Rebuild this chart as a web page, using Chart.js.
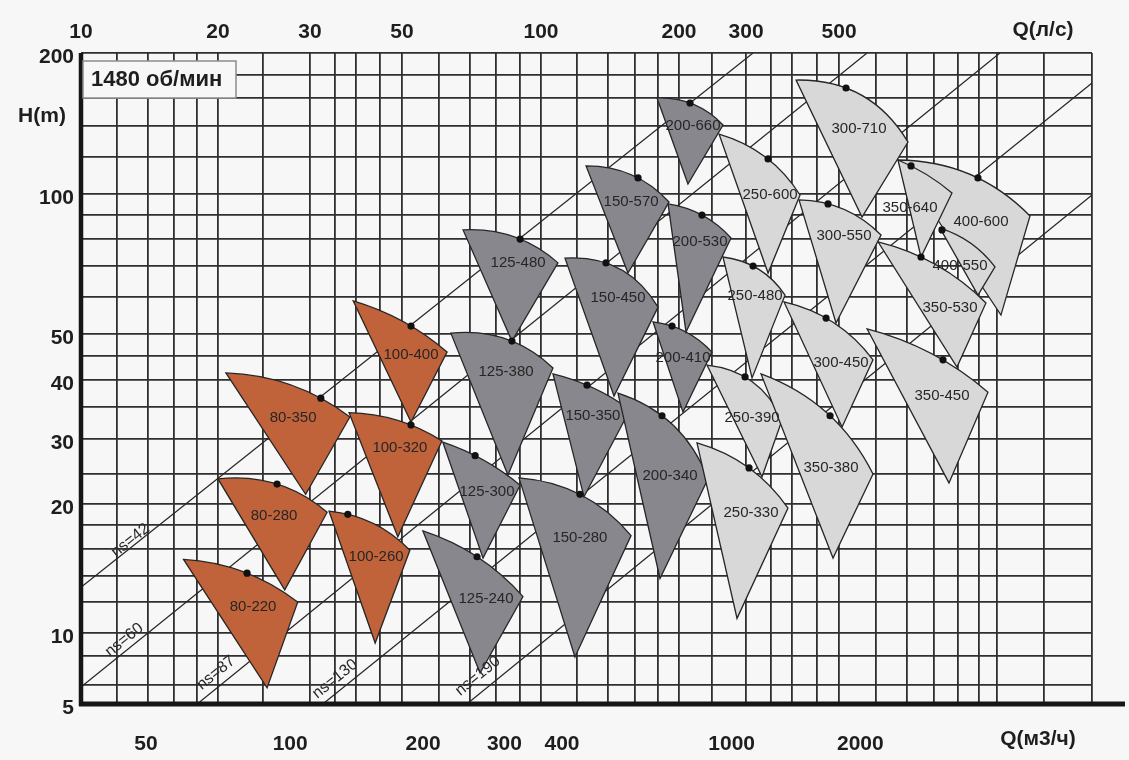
<!DOCTYPE html>
<html>
<head>
<meta charset="utf-8">
<script src="https://cdn.jsdelivr.net/npm/chart.js@4.4.1/dist/chart.umd.min.js"></script>
<style>
  html, body { margin: 0; padding: 0; background: #f7f7f7; }
  canvas { display: block; }
</style>
</head>
<body>
<canvas id="chart" width="1129" height="760"></canvas>
<script>
// ---------------- Pump operating fields at 1480 rpm (Q in l/s, H in m) ----------------
const pumpNames = [
  '80-220', '80-280', '80-350', '100-260', '100-320', '100-400',
  '125-240', '125-300', '125-480', '125-380', '150-280', '150-450', '150-350', '150-570',
  '200-340', '200-410', '200-530', '200-660',
  '250-330', '250-390', '250-480', '250-600', '300-450', '300-710', '300-550',
  '350-380', '350-450', '400-600', '350-640', '400-550', '350-530'
];
// 0 = small frame, 1 = medium frame, 2 = large frame
const pumpFamily = [
  0, 0, 0, 0, 0, 0,
  1, 1, 1, 1, 1, 1, 1, 1, 1, 1, 1, 1,
  2, 2, 2, 2, 2, 2, 2, 2, 2, 2, 2, 2, 2
];
// upper-left end of the full-impeller curve [Q, H]
const fieldTopLeft = [
  [16.8, 15.2], [20.0, 24.1], [20.8, 41.4], [33.8, 19.3], [38.3, 34.1], [39.3, 58.9],
  [55.5, 17.5], [61.3, 29.5], [67.8, 83.7], [63.8, 50.2], [89.6, 24.3], [112.8, 72.8],
  [106.2, 41.2], [125.4, 114.8], [147.2, 37.5], [175.5, 53.1], [189.3, 95.2], [179.1, 160.3],
  [225.9, 29.4], [241.7, 43.0], [265.2, 73.2], [259.6, 134.3], [380.5, 58.6], [407.7, 175.1],
  [413.5, 97.1], [329.5, 41.2], [574.4, 51.3], [669.6, 118.2], [669.6, 118.2], [824.4, 84.5],
  [606.5, 78.9]
];
// upper-right end of the full-impeller curve [Q, H]
const fieldTopRight = [
  [28.6, 12.0], [33.4, 19.2], [38.5, 33.4], [52.0, 15.9], [61.0, 29.7], [62.6, 45.8],
  [91.4, 12.4], [90.1, 23.0], [108.9, 71.1], [106.2, 42.4], [157.2, 17.1], [180.0, 57.1],
  [156.4, 34.6], [190.2, 96.1], [243.3, 24.1], [250.0, 45.8], [276.8, 80.4], [265.2, 140.4],
  [390.0, 19.6], [375.8, 32.9], [382.9, 60.6], [415.5, 99.5], [591.6, 44.1], [703.6, 129.1],
  [615.6, 81.6], [591.6, 25.0], [1048, 37.7], [1304, 89.7], [874.9, 100.5], [1087, 69.7],
  [1037, 58.3]
];
// lower point of the field (minimum impeller) [Q, H]
const fieldBottom = [
  [25.4, 5.85], [27.2, 12.9], [29.5, 21.5], [43.9, 9.07], [49.0, 17.0], [52.3, 32.6],
  [73.8, 6.77], [74.9, 15.3], [86.5, 48.3], [84.8, 24.8], [118.6, 7.91], [144.3, 37.0],
  [124.1, 21.1], [154.8, 67.6], [181.8, 13.8], [205.5, 34.2], [209.7, 50.5], [212.5, 105.0],
  [285.9, 10.9], [331.6, 24.5], [311.5, 40.4], [344.3, 67.6], [507.5, 31.8], [560.3, 89.2],
  [492.9, 52.8], [485.9, 15.3], [862.0, 23.4], [1121, 54.9], [750.4, 73.2], [995.0, 60.6],
  [896.8, 42.6]
];
// best efficiency point [Q, H]
const bestPoint = [
  [23.1, 14.2], [26.4, 23.2], [32.1, 36.6], [38.0, 19.0], [52.3, 32.1], [52.3, 52.0],
  [72.7, 15.4], [72.0, 27.5], [90.1, 80.0], [86.5, 48.3], [121.6, 21.5], [138.6, 71.1],
  [126.0, 39.0], [162.8, 108.2], [183.6, 33.6], [193.1, 52.0], [233.6, 90.1], [215.5, 156.4],
  [305.7, 25.8], [298.4, 40.6], [313.4, 70.0], [344.3, 118.8], [470.1, 54.1], [517.6, 168.4],
  [474.5, 95.2], [479.1, 33.6], [836.7, 44.1], [995.0, 108.2], [714.2, 114.8], [832.6, 83.7],
  [750.4, 73.2]
];
// where each pump name sits [Q, H]
const nameAt = [
  [23.8, 11.7], [26.1, 18.9], [28.1, 33.2], [44.1, 15.4], [49.5, 28.6], [52.3, 45.2],
  [76.0, 12.2], [76.4, 21.9], [89.2, 71.1], [84.0, 41.6], [121.6, 16.9], [147.2, 59.8],
  [129.8, 33.6], [157.2, 96.1], [191.2, 24.6], [205.5, 44.5], [230.5, 78.9], [219.9, 139.7],
  [309.5, 19.1], [311.5, 33.2], [317.4, 60.3], [348.6, 99.5], [505.0, 43.4], [552.0, 137.6],
  [512.5, 81.2], [481.3, 25.8], [832.6, 37.0], [1010.5, 87.1], [710.6, 93.3], [910.3, 70.0],
  [866.3, 56.9]
];

// ---------------- Specific-speed lines ----------------
const nsNames = ['ns=42', 'ns=60', 'ns=87', 'ns=130', 'ns=190'];
const nsFrom = [[10, 13.1], [10, 5.9], [18.0, 5], [32.5, 5], [69.1, 5]];
const nsTo = [[313.4, 200], [574.4, 200], [1115, 200], [1800, 172.6], [1800, 99.5]];
const nsNameAt = [[12.84, 16.7], [12.45, 9.34], [19.8, 6.77], [35.1, 6.38], [73.0, 6.57]];

// ---------------- Axis ticks ----------------
const flowGridLps = [10, 12, 14, 16, 18, 20, 25, 30, 35, 40, 45, 50, 60, 70, 80, 90, 100,
  120, 140, 160, 180, 200, 250, 300, 350, 400, 450, 500, 600, 700, 800, 900, 1000, 1100, 1400, 1800];
const flowLabelsLps = [10, 20, 30, 50, 100, 200, 300, 500];
const flowLabelsM3h = [50, 100, 200, 300, 400, 1000, 2000];
const headGrid = [5, 6, 8, 10, 12, 14, 16, 18, 20, 25, 30, 35, 40, 45, 50, 60, 70, 80, 90,
  100, 120, 140, 160, 180, 200];
const headLabels = [5, 10, 20, 30, 40, 50, 100, 200];

// ---------------- Styles ----------------
const familyFill = ['#c1633a', '#88878e', '#d8d8d8'];
const FONT = "'Liberation Sans', Arial, sans-serif";
const ARC_BULGE = 0.08;
const GRID_COLOR = '#2f2f2f';

// ---------------- Logarithmic axis with the sheet's own decade spacing ----------------
// [value, relative position along the axis]
const FLOW_KNOTS = [[10, 0], [20, 0.1355], [25, 0.1800], [30, 0.2265], [40, 0.2720], [50, 0.3175],
  [100, 0.4550], [200, 0.5915], [250, 0.6241], [300, 0.6578], [400, 0.7033], [500, 0.7498],
  [1000, 0.8882], [1800, 1]];
const HEAD_KNOTS = [[5, 0], [10, 0.1091], [14, 0.1966], [20, 0.3072], [25, 0.3533], [30, 0.4071],
  [40, 0.4977], [50, 0.5684], [100, 0.7834], [200, 1]];

function knotDecimal(knots, v) {
  const lv = Math.log10(v);
  let i = 0;
  while (i < knots.length - 2 && lv > Math.log10(knots[i + 1][0])) i++;
  const a = knots[i], b = knots[i + 1];
  const la = Math.log10(a[0]), lb = Math.log10(b[0]);
  return a[1] + (lv - la) / (lb - la) * (b[1] - a[1]);
}
function knotValue(knots, d) {
  let i = 0;
  while (i < knots.length - 2 && d > knots[i + 1][1]) i++;
  const a = knots[i], b = knots[i + 1];
  const la = Math.log10(a[0]), lb = Math.log10(b[0]);
  return Math.pow(10, la + (d - a[1]) / (b[1] - a[1]) * (lb - la));
}

const AXIS_TICKS = {
  x: flowLabelsM3h.map(v => v / 3.6),
  x2: flowGridLps,
  y: headGrid
};

class SheetLogScale extends Chart.LogarithmicScale {
  static id = 'sheetlog';
  static defaults = {};
  knots() { return this.axis === 'x' ? FLOW_KNOTS : HEAD_KNOTS; }
  determineDataLimits() {
    const k = this.knots();
    this.min = k[0][0];
    this.max = k[k.length - 1][0];
  }
  buildTicks() {
    return (AXIS_TICKS[this.id] || []).map(value => ({ value }));
  }
  getPixelForValue(value) {
    if (!(value > 0)) return NaN;
    return this.getPixelForDecimal(knotDecimal(this.knots(), value));
  }
  getValueForPixel(pixel) {
    return knotValue(this.knots(), this.getDecimalForPixel(pixel));
  }
}
Chart.register(SheetLogScale);

// ---------------- Drawing helpers ----------------
function toPx(chart, p) {
  return { x: chart.scales.x.getPixelForValue(p[0]), y: chart.scales.y.getPixelForValue(p[1]) };
}

// control point of the curved top edge; passes through the duty point when it lies on it
function arcControl(p0, p2, d, apex) {
  const cx = p2.x - p0.x, cy = p2.y - p0.y;
  const len2 = cx * cx + cy * cy, len = Math.sqrt(len2);
  const mx = (p0.x + p2.x) / 2, my = (p0.y + p2.y) / 2;
  let nx = -cy / len, ny = cx / len;
  if ((apex.x - mx) * nx + (apex.y - my) * ny > 0) { nx = -nx; ny = -ny; }
  const t = ((d.x - p0.x) * cx + (d.y - p0.y) * cy) / len2;
  const side = (d.x - p0.x) * nx + (d.y - p0.y) * ny;
  if (t > 0.15 && t < 0.85 && side > 0) {
    const u = 1 - t;
    return {
      x: (d.x - u * u * p0.x - t * t * p2.x) / (2 * t * u),
      y: (d.y - u * u * p0.y - t * t * p2.y) / (2 * t * u)
    };
  }
  const s = ARC_BULGE * len;
  return { x: mx + 2 * s * nx, y: my + 2 * s * ny };
}

function drawPumpFields(chart) {
  const ctx = chart.ctx;
  ctx.save();
  ctx.lineJoin = 'miter';
  for (let i = 0; i < pumpNames.length; i++) {
    const a = toPx(chart, fieldTopLeft[i]);
    const b = toPx(chart, fieldTopRight[i]);
    const c = toPx(chart, fieldBottom[i]);
    const d = toPx(chart, bestPoint[i]);
    const k = arcControl(a, b, d, c);
    ctx.beginPath();
    ctx.moveTo(a.x, a.y);
    ctx.quadraticCurveTo(k.x, k.y, b.x, b.y);
    ctx.lineTo(c.x, c.y);
    ctx.closePath();
    ctx.fillStyle = familyFill[pumpFamily[i]];
    ctx.fill();
    ctx.lineWidth = 1.3;
    ctx.strokeStyle = '#262626';
    ctx.stroke();
  }
  ctx.restore();
}

function drawPumpNames(chart) {
  const ctx = chart.ctx;
  ctx.save();
  ctx.font = '15px ' + FONT;
  ctx.fillStyle = '#262626';
  ctx.textAlign = 'center';
  ctx.textBaseline = 'middle';
  for (let i = 0; i < pumpNames.length; i++) {
    const p = toPx(chart, nameAt[i]);
    ctx.fillText(pumpNames[i], p.x, p.y);
  }
  ctx.restore();
}

function drawNsNames(chart) {
  const ctx = chart.ctx;
  ctx.save();
  ctx.font = '16px ' + FONT;
  ctx.fillStyle = '#2a2a2a';
  ctx.textAlign = 'center';
  ctx.textBaseline = 'middle';
  for (let i = 0; i < nsNames.length; i++) {
    const p0 = toPx(chart, nsFrom[i]), p1 = toPx(chart, nsTo[i]);
    const ang = Math.atan2(p1.y - p0.y, p1.x - p0.x);
    const at = toPx(chart, nsNameAt[i]);
    ctx.save();
    ctx.translate(at.x, at.y);
    ctx.rotate(ang);
    ctx.fillText(nsNames[i], 0, 0);
    ctx.restore();
  }
  ctx.restore();
}

function drawFrame(chart) {
  const ctx = chart.ctx, a = chart.chartArea;
  ctx.save();
  ctx.strokeStyle = '#161616';
  ctx.lineWidth = 4.5;
  ctx.beginPath();
  ctx.moveTo(a.left, a.top);
  ctx.lineTo(a.left, a.bottom + 2);
  ctx.stroke();
  ctx.lineWidth = 5;
  ctx.beginPath();
  ctx.moveTo(a.left - 2, a.bottom);
  ctx.lineTo(a.right + 33, a.bottom);
  ctx.stroke();

  // speed box
  ctx.fillStyle = '#f7f7f7';
  ctx.fillRect(a.left + 2, a.top + 8, 153, 37);
  ctx.lineWidth = 1.5;
  ctx.strokeStyle = '#8c8c8c';
  ctx.strokeRect(a.left + 2, a.top + 8, 153, 37);
  ctx.fillStyle = '#1e1e1e';
  ctx.font = 'bold 22px ' + FONT;
  ctx.textAlign = 'left';
  ctx.textBaseline = 'middle';
  ctx.fillText('1480 об/мин', a.left + 10, a.top + 27);

  // axis titles
  ctx.font = 'bold 21px ' + FONT;
  ctx.textAlign = 'center';
  ctx.fillText('H(m)', a.left - 39, a.top + 63);
  ctx.fillText('Q(л/с)', a.right - 49, a.top - 23);
  ctx.fillText('Q(м3/ч)', a.right - 54, a.bottom + 35);
  ctx.restore();
}

const sheetPlugin = {
  id: 'pumpSheet',
  beforeDatasetDraw(chart, args) {
    if (chart.data.datasets[args.index].label === 'BEP') drawPumpFields(chart);
  },
  afterDatasetsDraw(chart) {
    drawPumpNames(chart);
    drawNsNames(chart);
  },
  afterDraw(chart) {
    drawFrame(chart);
  }
};

// ---------------- Chart ----------------
const tickFont = { family: FONT, size: 21, weight: 'bold' };

const nsDatasets = nsNames.map((name, i) => ({
  label: name,
  order: 1,
  showLine: true,
  data: [{ x: nsFrom[i][0], y: nsFrom[i][1] }, { x: nsTo[i][0], y: nsTo[i][1] }],
  borderColor: '#262626',
  borderWidth: 1.2,
  pointRadius: 0,
  fill: false
}));

const bepDataset = {
  label: 'BEP',
  order: 0,
  data: bestPoint.map(p => ({ x: p[0], y: p[1] })),
  pointRadius: 3.6,
  pointBackgroundColor: '#111',
  pointBorderWidth: 0,
  showLine: false
};

new Chart(document.getElementById('chart'), {
  type: 'scatter',
  data: { datasets: [...nsDatasets, bepDataset] },
  options: {
    responsive: false,
    devicePixelRatio: 1,
    animation: false,
    events: [],
    layout: { padding: { left: 0, top: 0, right: 37, bottom: 0 } },
    plugins: { legend: { display: false }, tooltip: { enabled: false } },
    scales: {
      x: {
        type: 'sheetlog',
        position: 'bottom',
        afterFit: s => { s.height = 56; },
        grid: { display: false, drawTicks: false },
        border: { display: false },
        ticks: {
          autoSkip: false, maxRotation: 0, minRotation: 0, padding: 28,
          font: tickFont, color: '#1e1e1e',
          callback: v => String(Math.round(v * 3.6))
        }
      },
      x2: {
        type: 'sheetlog',
        position: 'top',
        afterFit: s => { s.height = 53; },
        grid: { display: true, drawTicks: false, color: GRID_COLOR, lineWidth: 1.8 },
        border: { display: false },
        ticks: {
          autoSkip: false, maxRotation: 0, minRotation: 0, padding: 8,
          font: tickFont, color: '#1e1e1e',
          callback: v => flowLabelsLps.includes(v) ? String(v) : ''
        }
      },
      y: {
        type: 'sheetlog',
        position: 'left',
        afterFit: s => { s.width = 81; },
        grid: { display: true, drawTicks: false, color: GRID_COLOR, lineWidth: 1.8 },
        border: { display: false },
        ticks: {
          autoSkip: false, padding: 7, labelOffset: 4,
          font: tickFont, color: '#1e1e1e',
          callback: v => headLabels.includes(v) ? String(v) : ''
        }
      }
    }
  },
  plugins: [sheetPlugin]
});
</script>
</body>
</html>
